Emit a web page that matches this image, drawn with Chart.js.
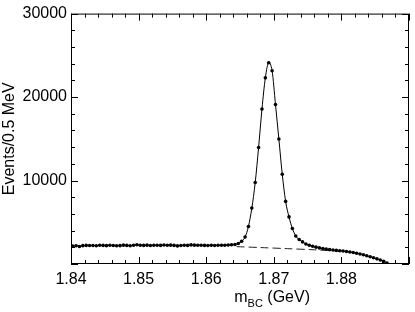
<!DOCTYPE html>
<html>
<head>
<meta charset="utf-8">
<script src="https://cdn.jsdelivr.net/npm/chart.js@4.4.1/dist/chart.umd.min.js"></script>
<style>
  html, body { margin: 0; padding: 0; background: #fff; }
  #wrap { width: 415px; height: 312px; }
</style>
</head>
<body>
<div id="wrap"><canvas id="mbcChart" width="415" height="312"></canvas></div>
<script>
// ================= Data =================
// bin centres (GeV), 0.5 MeV bins
const binCenters = [
  1.84025, 1.84075, 1.84125, 1.84175, 1.84225, 1.84275, 1.84325, 1.84375, 1.84425, 1.84475,
  1.84525, 1.84575, 1.84625, 1.84675, 1.84725, 1.84775, 1.84825, 1.84875, 1.84925, 1.84975,
  1.85025, 1.85075, 1.85125, 1.85175, 1.85225, 1.85275, 1.85325, 1.85375, 1.85425, 1.85475,
  1.85525, 1.85575, 1.85625, 1.85675, 1.85725, 1.85775, 1.85825, 1.85875, 1.85925, 1.85975,
  1.86025, 1.86075, 1.86125, 1.86175, 1.86225, 1.86275, 1.86325, 1.86375,
  1.86425, 1.86475, 1.86525, 1.86575, 1.86625, 1.86675, 1.86725, 1.86775, 1.86825, 1.86875,
  1.86925, 1.86975, 1.87025, 1.87075, 1.87125, 1.87175, 1.87225, 1.87275, 1.87325, 1.87375,
  1.87425, 1.87475, 1.87525, 1.87575, 1.87625, 1.87675, 1.87725, 1.87775, 1.87825, 1.87875,
  1.87925, 1.87975, 1.88025, 1.88075, 1.88125, 1.88175, 1.88225, 1.88275, 1.88325, 1.88375,
  1.88425, 1.88475, 1.88525, 1.88575, 1.88625, 1.88675
];

const events = [
  2150, 2180, 2100, 2200, 2230, 2210, 2220, 2190, 2240, 2230,
  2200, 2250, 2210, 2180, 2200, 2260, 2230, 2190, 2240, 2300,
  2250, 2230, 2260, 2210, 2240, 2250, 2230, 2270, 2240, 2260,
  2230, 2170, 2220, 2250, 2230, 2290, 2260, 2240, 2250, 2230,
  2220, 2250, 2210, 2240, 2250, 2240, 2280, 2300,
  2330, 2450, 2730, 3230, 4500, 6700, 9760, 13950, 18570, 22300,
  24120, 23150, 19100, 14980, 10760, 7500, 5640, 4250, 3350, 2930,
  2650, 2400, 2250, 2130, 2020, 1930, 1850, 1780, 1720, 1670,
  1630, 1590, 1550, 1500, 1440, 1370, 1290, 1200, 1100, 990,
  870, 750, 620, 480, 320, 120
];

// background shape (dashed) under the peak
const bgMass = [1.8645, 1.868, 1.872, 1.876, 1.880];
const bgEvents = [2080, 1970, 1840, 1700, 1540];

const xTicks = [1.84, 1.85, 1.86, 1.87, 1.88];
const yTicks = [10000, 20000, 30000];

// ================= Frame + inward ticks + x title =================
const framePlugin = {
  id: 'frame',
  afterDraw(chart) {
    const { ctx, chartArea: a, scales } = chart;
    ctx.save();
    ctx.strokeStyle = '#000';
    ctx.lineWidth = 1;
    ctx.strokeRect(a.left + 0.5, a.top + 0.5, a.right - a.left - 1, a.bottom - a.top - 1);

    ctx.beginPath();
    scales.x.ticks.forEach(t => {
      const px = Math.round(scales.x.getPixelForValue(t.value)) + 0.5;
      const major = Math.round(t.value * 1000) % 10 === 0;
      const len = major ? 7 : 4;
      ctx.moveTo(px, a.bottom); ctx.lineTo(px, a.bottom - len);
      ctx.moveTo(px, a.top); ctx.lineTo(px, a.top + len);
    });
    scales.y.ticks.forEach(t => {
      const py = Math.round(scales.y.getPixelForValue(t.value)) + 0.5;
      const major = Math.round(t.value) % 10000 === 0;
      const len = major ? 7 : 4;
      ctx.moveTo(a.left, py); ctx.lineTo(a.left + len, py);
      ctx.moveTo(a.right, py); ctx.lineTo(a.right - len, py);
    });
    ctx.stroke();

    // x title with subscript
    const x0 = a.left + 0.483 * (a.right - a.left);
    const base = 302;
    ctx.fillStyle = '#000';
    ctx.textBaseline = 'alphabetic';
    ctx.textAlign = 'left';
    ctx.font = '16px "Liberation Sans", Arial, sans-serif';
    ctx.fillText('m', x0, base);
    let x = x0 + ctx.measureText('m').width;
    ctx.font = '11px "Liberation Sans", Arial, sans-serif';
    ctx.fillText('BC', x, base + 5);
    x += ctx.measureText('BC').width;
    ctx.font = '16px "Liberation Sans", Arial, sans-serif';
    ctx.fillText(' (GeV)', x, base);
    ctx.restore();
  }
};

// ================= Chart =================
const fontFamily = '"Liberation Sans", Arial, sans-serif';

new Chart(document.getElementById('mbcChart'), {
  type: 'line',
  data: {
    datasets: [
      {
        label: 'fit',
        data: binCenters.map((m, i) => ({ x: m, y: events[i] })),
        borderColor: '#000',
        backgroundColor: '#000',
        borderWidth: 1,
        pointRadius: 1.8,
        pointBorderWidth: 0,
        cubicInterpolationMode: 'monotone',
        order: 1
      },
      {
        label: 'background',
        data: bgMass.map((m, i) => ({ x: m, y: bgEvents[i] })),
        borderColor: '#222',
        borderWidth: 1,
        borderDash: [8, 4],
        pointRadius: 0,
        tension: 0.3,
        order: 2
      }
    ]
  },
  options: {
    responsive: false,
    animation: false,
    layout: { padding: { top: 7, right: 1, left: 0, bottom: 0 } },
    plugins: { legend: { display: false }, tooltip: { enabled: false } },
    scales: {
      x: {
        type: 'linear',
        min: 1.84,
        max: 1.89,
        grid: { display: false, drawTicks: false },
        border: { display: false },
        afterFit: s => { s.height = 48; },
        ticks: {
          stepSize: 0.002,
          autoSkip: false,
          maxRotation: 0,
          padding: 6,
          color: '#000',
          font: { family: fontFamily, size: 16 },
          callback: v => {
            const lab = xTicks.find(t => Math.abs(t - v) < 1e-6);
            return lab !== undefined ? lab.toFixed(2) : '';
          }
        }
      },
      y: {
        type: 'linear',
        min: 0,
        max: 30000,
        grid: { display: false, drawTicks: false },
        border: { display: false },
        afterFit: s => { s.width = 71; },
        title: {
          display: true,
          text: 'Events/0.5 MeV',
          color: '#000',
          font: { family: fontFamily, size: 16 },
          padding: { top: 0, bottom: 0 }
        },
        ticks: {
          stepSize: 2000,
          autoSkip: false,
          padding: 4,
          color: '#000',
          font: { family: fontFamily, size: 16 },
          callback: v => (yTicks.includes(v) ? String(v) : '')
        }
      }
    }
  },
  plugins: [framePlugin]
});
</script>
</body>
</html>
